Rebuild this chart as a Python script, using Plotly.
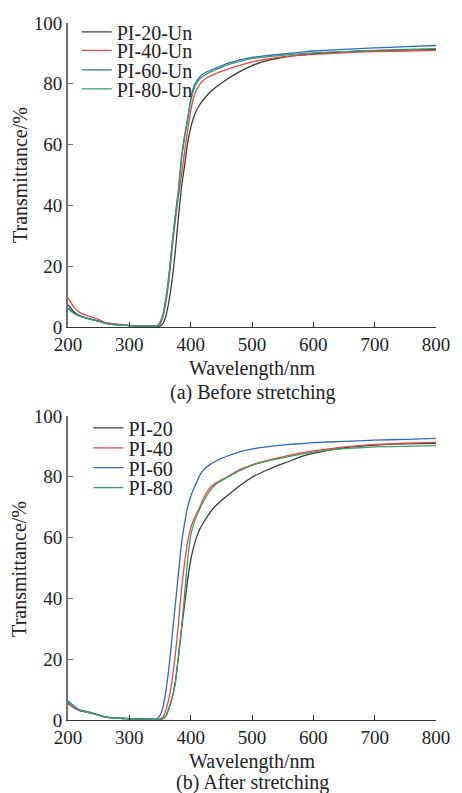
import plotly.graph_objects as go

# Wavelength grid (nm) shared by all spectra
wavelength = [200, 210, 220, 230, 240, 250, 260, 270, 280, 290, 300, 320, 340,
              345, 350, 355, 360, 365, 370, 375, 380, 385, 390, 395, 400, 405,
              410, 415, 420, 430, 440, 450, 460, 480, 500, 520, 540, 560, 580,
              600, 650, 700, 750, 800]

# (a) Before stretching — transmittance (%)
pi20_un = [7.4, 5.0, 3.7, 3.0, 2.5, 2.0, 1.4, 1.0, 0.8, 0.6, 0.5, 0.4, 0.3,
           0.2, 0.3, 1.2, 4.0, 9.0, 16.0, 25.0, 36.0, 46.0, 53.0, 60.5, 65.5, 69.0,
           71.5, 73.2, 74.6, 76.9, 78.7, 80.2, 81.6, 84.0, 86.0, 87.4, 88.3, 89.0, 89.5,
           89.9, 90.5, 90.9, 91.1, 91.3]
pi40_un = [9.6, 6.5, 4.7, 3.9, 3.2, 2.5, 1.6, 1.2, 1.0, 0.8, 0.6, 0.4, 0.3,
           0.3, 1.0, 3.5, 8.5, 16.0, 26.0, 35.0, 43.0, 50.0, 57.5, 64.5, 71.0, 75.5,
           78.2, 79.9, 81.0, 82.4, 83.3, 84.1, 84.8, 86.1, 87.2, 88.0, 88.6, 89.1, 89.4,
           89.7, 90.2, 90.6, 90.8, 91.0]
pi60_un = [6.3, 4.6, 3.6, 3.0, 2.5, 2.0, 1.4, 1.0, 0.8, 0.6, 0.5, 0.4, 0.3,
           0.4, 1.5, 4.5, 10.0, 18.0, 28.0, 37.0, 45.0, 56.0, 63.0, 68.5, 75.0, 79.0,
           81.0, 82.3, 83.2, 84.3, 85.1, 85.9, 86.7, 87.9, 88.7, 89.2, 89.6, 90.0, 90.4,
           90.8, 91.3, 91.8, 92.2, 92.6]
pi80_un = [6.1, 4.4, 3.5, 2.9, 2.4, 1.9, 1.3, 0.9, 0.7, 0.6, 0.5, 0.4, 0.3,
           0.4, 1.3, 4.2, 9.5, 17.5, 27.5, 36.5, 44.5, 55.0, 62.0, 68.0, 74.0, 78.2,
           80.3, 81.6, 82.5, 83.7, 84.6, 85.4, 86.2, 87.4, 88.3, 88.8, 89.2, 89.6, 89.9,
           90.2, 90.6, 91.0, 91.3, 91.6]

# (b) After stretching — transmittance (%)
pi20 = [5.5, 4.0, 3.1, 2.6, 2.1, 1.6, 1.0, 0.7, 0.6, 0.5, 0.4, 0.3, 0.2,
        0.2, 0.2, 0.4, 1.5, 4.0, 7.5, 12.5, 20.5, 29.5, 38.0, 46.0, 52.5, 57.0,
        60.3, 62.8, 64.6, 67.8, 70.3, 72.2, 73.8, 77.0, 79.8, 81.8, 83.5, 85.0, 86.6,
        87.7, 89.5, 90.4, 90.8, 91.0]
pi40 = [5.3, 3.9, 3.0, 2.6, 2.1, 1.6, 1.0, 0.7, 0.6, 0.5, 0.4, 0.3, 0.2,
        0.2, 0.3, 1.0, 3.5, 7.5, 13.5, 21.5, 31.5, 43.0, 51.5, 58.5, 63.0, 66.0,
        68.0, 70.0, 72.5, 76.0, 77.8, 79.0, 80.0, 82.3, 83.9, 85.1, 86.1, 87.0, 87.8,
        88.5, 89.8, 90.6, 91.0, 91.3]
pi60 = [6.3, 4.5, 3.3, 2.8, 2.3, 1.7, 1.1, 0.8, 0.7, 0.6, 0.5, 0.4, 0.3,
        0.4, 1.5, 4.5, 10.0, 18.0, 28.0, 38.0, 48.0, 58.0, 64.5, 70.0, 73.5, 76.0,
        78.3, 80.5, 82.0, 83.8, 85.0, 86.0, 86.8, 88.2, 89.1, 89.7, 90.2, 90.6, 90.9,
        91.2, 91.6, 92.0, 92.3, 92.6]
pi80 = [5.8, 4.2, 3.2, 2.7, 2.2, 1.6, 1.0, 0.7, 0.6, 0.5, 0.4, 0.3, 0.2,
        0.2, 0.2, 0.4, 1.5, 4.0, 7.5, 12.0, 21.0, 30.0, 41.0, 52.5, 60.5, 64.5,
        67.2, 69.5, 71.5, 75.0, 77.3, 78.7, 79.8, 82.0, 83.7, 84.9, 85.8, 86.6, 87.4,
        88.1, 89.2, 89.8, 90.0, 90.2]

names_a = ["PI-20-Un", "PI-40-Un", "PI-60-Un", "PI-80-Un"]
names_b = ["PI-20", "PI-40", "PI-60", "PI-80"]
series_a = [pi20_un, pi40_un, pi60_un, pi80_un]
series_b = [pi20, pi40, pi60, pi80]
colors = ["#3a3a3a", "#e8474a", "#2e69c0", "#3a9f66"]

FONT = "Liberation Serif"
W, H = 462, 793
ML, MR, MT, MB = 68, 15, 21, 73
plot_h = H - MT - MB


def py(pixel_y):
    """Convert a page pixel row to paper y."""
    return (H - MB - pixel_y) / plot_h


def px(pixel_x):
    return (pixel_x - ML) / (W - ML - MR)


fig = go.Figure()

legend_rows_a = [30, 48.5, 68, 87]
legend_rows_b = [427, 447, 467, 487]

for i, (name, vals) in enumerate(zip(names_a, series_a)):
    fig.add_trace(go.Scatter(
        x=wavelength, y=vals, name=name, mode="lines",
        line=dict(color=colors[i], width=1.3, shape="spline", smoothing=0.4),
        xaxis="x", yaxis="y", legend="legend" if i == 0 else f"legend{i + 1}",
    ))

for i, (name, vals) in enumerate(zip(names_b, series_b)):
    fig.add_trace(go.Scatter(
        x=wavelength, y=vals, name=name, mode="lines",
        line=dict(color=colors[i], width=1.3, shape="spline", smoothing=0.4),
        xaxis="x2", yaxis="y2", legend=f"legend{i + 5}",
    ))

axis_common = dict(
    range=[200, 800], dtick=100, showline=True, ticks="inside", ticklen=5,
    showgrid=False, zeroline=False, tickfont=dict(family=FONT, size=19, color="#222"),
    linecolor="#333", tickcolor="#333", linewidth=1.3, mirror=False,
)
yaxis_common = dict(
    range=[0, 100], dtick=20, showline=True, ticks="inside", ticklen=5,
    showgrid=False, zeroline=False, tickfont=dict(family=FONT, size=19, color="#222"),
    linecolor="#707070", tickcolor="#707070", linewidth=1.8, mirror=False,
)

top_bottom = py(326)
bot_top = py(415)

layout = dict(
    width=W, height=H,
    margin=dict(l=ML, r=MR, t=MT, b=MB),
    paper_bgcolor="white", plot_bgcolor="white",
    showlegend=True,
    font=dict(family=FONT, size=19, color="#222"),
    xaxis=dict(axis_common, domain=[0, 1], anchor="y"),
    yaxis=dict(yaxis_common, domain=[top_bottom, 1], anchor="x"),
    xaxis2=dict(axis_common, domain=[0, 1], anchor="y2"),
    yaxis2=dict(yaxis_common, domain=[0, bot_top], anchor="x2"),
)

# one legend box per entry so each row sits at its own height
leg_style = dict(bgcolor="rgba(0,0,0,0)", borderwidth=0, xanchor="left", yanchor="middle",
                 font=dict(family=FONT, size=20, color="#222"), itemwidth=30,
                 visible=True)
for i, row in enumerate(legend_rows_a):
    key = "legend" if i == 0 else f"legend{i + 1}"
    layout[key] = dict(leg_style, x=px(77), y=py(row))
for i, row in enumerate(legend_rows_b):
    layout[f"legend{i + 5}"] = dict(leg_style, x=px(89), y=py(row))

fig.update_layout(**layout)

annotations = [
    dict(text="Wavelength/nm", x=0.5, y=py(367)),
    dict(text="(a) Before stretching", x=0.5, y=py(392)),
    dict(text="Wavelength/nm", x=0.5, y=py(762)),
    dict(text="(b) After stretching", x=0.5, y=py(783)),
    dict(text="Transmittance/%", x=px(18), y=py(173), textangle=-90),
    dict(text="Transmittance/%", x=px(18), y=py(568), textangle=-90),
]
for a in annotations:
    fig.add_annotation(xref="paper", yref="paper", showarrow=False,
                       xanchor="center", yanchor="middle",
                       font=dict(family=FONT, size=20, color="#222"), **a)

fig.write_html("out.html")
